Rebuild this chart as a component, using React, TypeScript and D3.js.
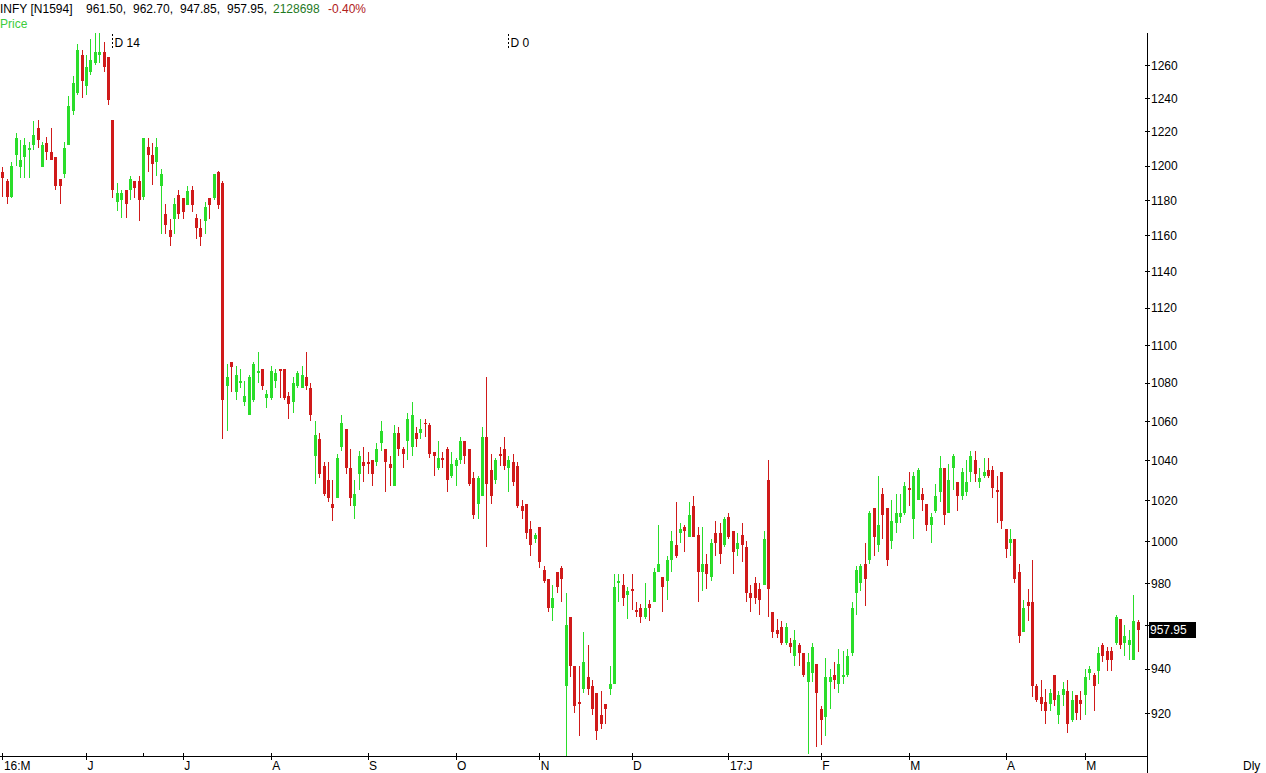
import React, { useEffect, useRef } from 'react';
import * as d3 from 'd3';

const W = 1266;
const H = 773;
const FONT = '"Liberation Sans", Arial, sans-serif';

const opens = [
  1196,1191,1182,1206,1199,1205,1209,1212,1222,1199,
  1213,1208,1205,1192,1195,1212,1232,1243,1266,1247,
  1256,1261,1266,1268,1265,1227,1179,1180,1186,1186,
  1191,1191,1182,1211,1206,1202,1188,1172,1163,1169,
  1183,1181,1177,1186,1170,1164,1168,1181,1181,1196,
  1190,1078,1091,1075,1080,1070,1063,1071,1085,1087,
  1072,1072,1081,1087,1087,1073,1070,1078,1077,1083,
  1077,1042,1051,1037,1030,1018,1021,1047,1056,1036,
  1017,1033,1039,1039,1040,1039,1049,1046,1038,1027,
  1054,1046,1050,1047,1054,1054,1059,1058,1044,1036,
  1041,1046,1032,1037,1040,1050,1046,1031,1018,1022,
  1052,1035,1030,1043,1046,1036,1039,1037,1017,1018,
  1006,1001,1007,986,982,968,985,987,932,964,
  941,925,931,936,932,929,919,924,931,933,
  980,979,974,977,967,968,964,970,971,985,
  983,981,991,998,1004,1007,1002,1017,1003,985,
  989,983,1004,1004,998,1012,1005,996,1003,997,
  975,980,977,979,1030,966,958,959,952,952,
  946,951,947,934,938,942,922,918,934,937,
  933,936,937,947,975,980,989,991,1016,998,
  1023,1016,1000,1009,1012,1014,1026,1011,1020,1023,
  1018,1008,1015,1024,1036,1014,1036,1029,1022,1024,
  1034,1040,1029,1032,1035,1035,1025,1034,1006,999,
  1001,985,957,971,971,932,927,925,924,937,
  919,928,930,917,928,926,928,938,937,939,
  951,948,948,952,963,952,951,944,961.5,
];

const highs = [
  1199,1192,1202,1219,1215,1216,1214,1226,1227,1214,
  1217,1222,1205,1192,1214,1241,1253,1273,1269,1266,
  1276,1280,1280,1274,1265,1227,1190,1186,1186,1194,
  1191,1194,1216,1216,1213,1216,1198,1178,1169,1181,
  1186,1181,1188,1188,1172,1169,1179,1181,1195,1197,
  1191,1090,1091,1089,1087,1081,1084,1091,1096,1087,
  1076,1089,1087,1087,1087,1075,1083,1086,1089,1096,
  1080,1060,1054,1039,1039,1030,1043,1063,1056,1046,
  1030,1045,1047,1044,1040,1049,1060,1046,1042,1058,
  1057,1047,1064,1070,1057,1061,1061,1059,1044,1050,
  1044,1047,1044,1041,1052,1050,1046,1034,1032,1057,
  1083,1043,1041,1047,1052,1042,1043,1039,1020,1018,
  1010,1004,1007,988,982,979,985,988,975,964,
  941,941,957,951,935,929,930,924,941,984,
  984,984,978,984,971,970,980,972,987,1008,
  983,993,1005,1019,1009,1008,1019,1022,1007,1007,
  994,1001,1010,1009,1012,1014,1005,1004,1009,1000,
  979,983,980,1005,1040,966,963,962,961,954,
  958,952,947,947,952,942,923,945,940,943,
  949,948,949,971,988,989,999,1015,1016,1032,
  1026,1016,1020,1023,1023,1029,1034,1034,1036,1026,
  1018,1014,1028,1042,1036,1038,1043,1029,1036,1040,
  1045,1045,1036,1041,1041,1037,1032,1034,1006,1006,
  1001,989,972,977,991,933,935,931,931,937,
  930,934,935,930,928,930,940,941,938,950,
  952,950,950,965,963,960,958,974,962.7,
];

const lows = [
  1182,1178,1181,1200,1193,1193,1193,1209,1210,1199,
  1203,1203,1186,1178,1193,1212,1230,1242,1240,1242,
  1254,1260,1261,1256,1236,1181,1174,1170,1170,1180,
  1181,1168,1180,1196,1189,1194,1161,1161,1154,1161,
  1169,1169,1177,1173,1158,1154,1161,1169,1180,1175,
  1051,1055,1075,1071,1077,1068,1063,1070,1080,1076,
  1067,1071,1077,1072,1071,1061,1064,1077,1077,1076,
  1060,1028,1031,1022,1019,1010,1021,1045,1033,1017,
  1011,1025,1029,1033,1027,1037,1045,1024,1027,1027,
  1042,1036,1040,1042,1047,1051,1052,1041,1032,1035,
  1036,1024,1031,1027,1038,1038,1027,1011,1011,1022,
  997,1018,1028,1037,1035,1024,1027,1016,1011,1001,
  993,999,987,980,966,962,975,971,900,936,
  920,910,929,928,919,908,913,915,928,933,
  971,969,963,967,964,961,963,962,971,985,
  966,972,985,992,999,995,1002,1002,971,976,
  977,981,993,989,997,1001,984,993,990,971,
  966,970,965,979,964,954,954,951,951,947,
  941,941,936,902,934,905,906,910,922,931,
  929,933,936,946,965,976,969,989,993,995,
  1001,988,996,1004,1009,1013,1017,1001,1020,1015,
  1005,999,1014,1019,1008,1014,1025,1015,1020,1022,
  1029,1029,1026,1031,1031,1021,1009,1006,992,993,
  980,952,957,962,927,925,921,915,921,923,
  915,923,911,916,917,917,919,935,921,933,
  943,939,939,951,949,946,944,944,947.85,
];

const closes = [
  1193,1182,1200,1216,1203,1212,1210,1218,1215,1212,
  1208,1203,1188,1188,1210,1235,1249,1269,1250,1259,
  1263,1268,1268,1259,1239,1186,1184,1184,1178,1192,
  1187,1180,1216,1206,1201,1211,1195,1166,1159,1178,
  1172,1173,1185,1177,1164,1159,1176,1177,1195,1177,
  1071,1083,1088,1084,1081,1073,1083,1090,1086,1078,
  1074,1086,1085,1086,1072,1069,1080,1085,1084,1078,
  1063,1053,1033,1023,1021,1016,1041,1059,1036,1021,
  1023,1042,1037,1038,1033,1046,1055,1039,1036,1054,
  1046,1043,1061,1063,1051,1056,1058.5,1043,1042,1041,
  1040,1030,1038,1040,1050,1042,1028,1013,1031,1052,
  1028,1022,1040,1042,1037,1040,1029,1017,1015,1004,
  998,1003,990,981,968,973,978,982,960,941,
  923,924,943,931,922,912,915,922,933,978,
  981,973,976,976,966,964,968,968,985,989,
  978,991,1000,993,1006,1005,1013,1002,985,989,
  984,999,999,994,1011,1002,995,999,998,975,
  973,973,972,1001,977,957,956,952,959,950,
  953,947,937,943,950,929,917,936,936,935,
  942,937,946,968,986,988,982,1014,1002,1008,
  1013,991,1010,1014,1014,1027,1025,1032,1035,1020,
  1008,1012,1022,1036,1013,1030,1042,1022,1034,1029,
  1042,1033,1031,1034,1032,1026,1024,1010,996,1001,
  982,955,968,969,932,926,924,921,929,926,
  928,931,915,926,920,924,936,940,932,947,
  946,944,944,964,951,955,953,961.8,957.95,
];

const monthTickIndex = [0, 19, 41, 61, 83, 103, 122, 143, 165, 186, 206, 228, 246];
const monthTickLabels = ['16:M', 'J', 'J', 'A', 'S', 'O', 'N', 'D', '17:J', 'F', 'M', 'A', 'M'];
const minorTickIndex = [32];
const yTickValues = [920, 940, 960, 980, 1000, 1020, 1040, 1060, 1080, 1100, 1120, 1140, 1160, 1180, 1200, 1220, 1240, 1260];
const hiddenTickLabels = [960];
const markerIndex = [25, 115];
const markerLabels = ['D 14', 'D 0'];

const symbolLabel = 'INFY [N1594]';
const quoteValues = ['961.50,', '962.70,', '947.85,', '957.95,'];
const volumeLabel = '2128698';
const changeLabel = '-0.40%';
const lastPrice = 957.95;

const GREEN = '#2add2a';
const RED = '#d01a1a';

export default function App() {
  const yAxisRef = useRef<SVGGElement>(null);
  const xAxisRef = useRef<SVGGElement>(null);

  const n = opens.length;
  const x = d3.scaleLinear().domain([0, n - 1]).range([2.4, 1137.6]);
  const y = d3.scaleLog().domain([920, 1260]).range([713, 65]);
  const axisX = 1147;
  const baseY = 756;
  const topY = 33;

  useEffect(() => {
    if (yAxisRef.current) {
      const gy = d3.select(yAxisRef.current);
      gy.call(
        d3.axisRight(y as any)
          .tickValues(yTickValues)
          .tickFormat((d: any) => (hiddenTickLabels.includes(d) ? '' : String(d)))
          .tickSizeInner(3)
          .tickSizeOuter(0)
          .tickPadding(1) as any
      );
      gy.attr('font-family', FONT).attr('font-size', 12);
      gy.select('.domain').remove();
      gy.selectAll('.tick line').attr('x1', -2).attr('stroke', '#000').attr('shape-rendering', 'crispEdges');
      gy.selectAll('.tick text').attr('fill', '#000').attr('dy', '0.35em');
    }
    if (xAxisRef.current) {
      const gx = d3.select(xAxisRef.current);
      gx.call(
        d3.axisBottom(x)
          .tickValues(monthTickIndex)
          .tickFormat((_d: any, i: number) => monthTickLabels[i])
          .tickSizeInner(4)
          .tickSizeOuter(0) as any
      );
      gx.attr('font-family', FONT).attr('font-size', 12);
      gx.select('.domain').remove();
      gx.selectAll('.tick line').attr('y1', -3).attr('stroke', '#000').attr('shape-rendering', 'crispEdges');
      gx.selectAll('.tick text')
        .attr('text-anchor', 'start')
        .attr('x', 1)
        .attr('y', 14)
        .attr('dy', null)
        .attr('fill', '#000');
    }
  }, []);

  const lastY = y(lastPrice);

  return (
    <svg
      width={W}
      height={H}
      style={{ position: 'absolute', left: 0, top: 0, background: '#fff' }}
      fontFamily={FONT}
    >
      <rect x={0} y={0} width={W} height={H} fill="#fff" />
      <defs>
        <clipPath id="plotClip">
          <rect x={0} y={topY} width={axisX} height={baseY - topY} />
        </clipPath>
      </defs>

      {/* header */}
      <text x={0} y={13} fontSize={12} fill="#000">{symbolLabel}</text>
      {quoteValues.map((v, i) => (
        <text key={v + i} x={86 + i * 47} y={13} fontSize={12} fill="#000">{v}</text>
      ))}
      <text x={273} y={13} fontSize={12} fill="#1f7a1f">{volumeLabel}</text>
      <text x={328} y={13} fontSize={12} fill="#b02020">{changeLabel}</text>
      <text x={0} y={28} fontSize={12} fill="#3ccc3c">Price</text>

      {/* markers */}
      {markerIndex.map((mi, i) => {
        const mx = Math.round(x(mi)) + 0.5;
        return (
          <g key={'m' + i}>
            <line x1={mx} x2={mx} y1={34} y2={50} stroke="#000" strokeDasharray="2,2" shapeRendering="crispEdges" />
            <text x={mx + 2} y={47} fontSize={12} fill="#000">{markerLabels[i]}</text>
          </g>
        );
      })}

      {/* candles */}
      <g clipPath="url(#plotClip)">
        {opens.map((o, i) => {
          const c = closes[i];
          const up = c >= o;
          const col = up ? GREEN : RED;
          const cx = Math.round(x(i));
          const yt = Math.round(y(Math.max(o, c)));
          const yb = Math.round(y(Math.min(o, c)));
          return (
            <g key={i}>
              <line
                x1={cx + 0.5}
                x2={cx + 0.5}
                y1={Math.round(y(highs[i]))}
                y2={Math.round(y(lows[i]))}
                stroke={col}
                strokeWidth={1}
                shapeRendering="crispEdges"
              />
              <rect x={cx - 1} y={yt} width={3} height={Math.max(1, yb - yt)} fill={col} shapeRendering="crispEdges" />
            </g>
          );
        })}
      </g>

      {/* axes lines */}
      <line x1={0} x2={axisX} y1={baseY + 0.5} y2={baseY + 0.5} stroke="#000" shapeRendering="crispEdges" />
      <line x1={axisX + 0.5} x2={axisX + 0.5} y1={topY} y2={H} stroke="#000" shapeRendering="crispEdges" />
      {minorTickIndex.map((mi) => (
        <line key={'mt' + mi} x1={Math.round(x(mi)) + 0.5} x2={Math.round(x(mi)) + 0.5} y1={baseY - 3} y2={baseY} stroke="#000" shapeRendering="crispEdges" />
      ))}
      <g ref={xAxisRef} transform={`translate(0,${baseY})`} />
      <g ref={yAxisRef} transform={`translate(${axisX},0)`} />

      {/* last price */}
      <rect x={1149} y={Math.round(lastY) - 8} width={47} height={16} fill="#000" />
      <text x={1150} y={Math.round(lastY) + 4} fontSize={12} fill="#fff">{lastPrice.toFixed(2)}</text>

      <text x={1243} y={770} fontSize={12} fill="#000">Dly</text>
    </svg>
  );
}
